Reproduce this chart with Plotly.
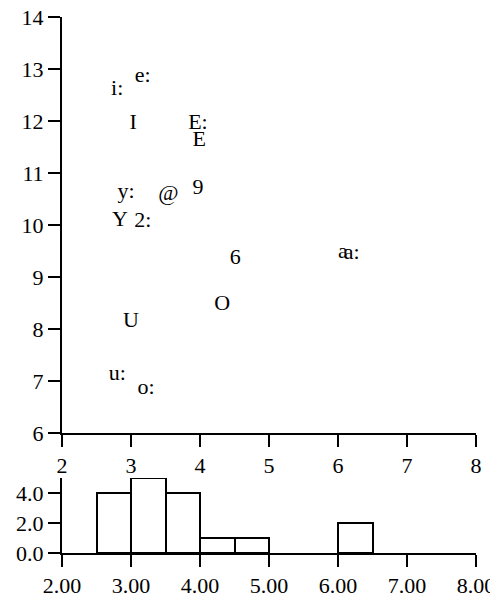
import plotly.graph_objects as go

labels = ["i:", "e:", "I", "E:", "E", "y:", "@", "9", "Y", "2:", "6", "O", "U", "u:", "o:", "a", "a:"]
f2 = [2.80, 3.17, 3.03, 3.97, 3.99, 2.93, 3.54, 3.97, 2.84, 3.17, 4.51, 4.32, 3.00, 2.80, 3.22, 6.07, 6.20]
f1 = [12.60, 12.85, 11.96, 11.96, 11.63, 10.63, 10.58, 10.71, 10.08, 10.06, 9.35, 8.48, 8.15, 7.13, 6.85, 9.47, 9.45]

x_ticks = [2, 3, 4, 5, 6, 7, 8]
y_ticks = [6, 7, 8, 9, 10, 11, 12, 13, 14]
hist_yticks = [0, 2, 4]

FONT = "Liberation Serif"
fs = 22

fig = go.Figure()
fig.add_trace(go.Scatter(
    x=f2, y=f1, text=labels, mode="text", textposition="middle center",
    textfont=dict(family=FONT, size=fs, color="black"),
    xaxis="x", yaxis="y", showlegend=False, hoverinfo="skip", cliponaxis=False))
fig.add_trace(go.Histogram(
    x=f2, xbins=dict(start=2, end=8, size=0.5), autobinx=False,
    marker=dict(color="white", line=dict(color="black", width=2)),
    xaxis="x2", yaxis="y2", showlegend=False))

axis_common = dict(showgrid=False, zeroline=False, showline=True, linecolor="black",
                   linewidth=2, ticks="outside", ticklen=12, tickwidth=2, tickcolor="black",
                   automargin=False, ticklabeloverflow="allow",
                   tickfont=dict(family=FONT, size=fs, color="black"))

# page body has an 8px margin, so the figure is sized to fit the window
fig.update_layout(
    width=490, height=586,
    margin=dict(l=54, r=22, t=9, b=41),
    plot_bgcolor="white", paper_bgcolor="white",
    bargap=0,
    xaxis=dict(domain=[0, 1], range=[2, 8], tickvals=x_ticks, anchor="y", **axis_common),
    yaxis=dict(domain=[0.2239, 1], range=[6, 14], tickvals=y_ticks, anchor="x", **axis_common),
    xaxis2=dict(domain=[0, 1], range=[2, 8], tickvals=x_ticks, tickformat=".2f", anchor="y2", **axis_common),
    yaxis2=dict(domain=[0, 0.14], range=[0, 5], tickvals=hist_yticks, tickformat=".1f", anchor="x2", **axis_common),
)

fig.write_html("out.html")
